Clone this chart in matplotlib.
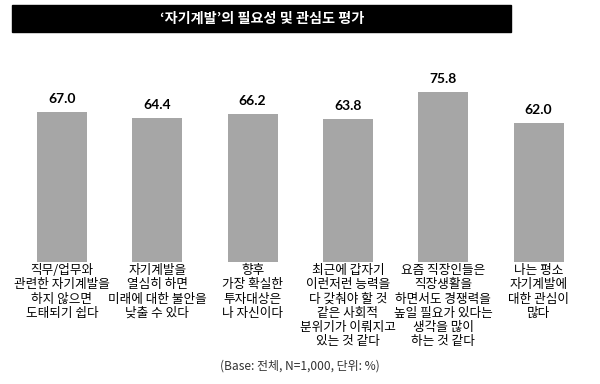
import matplotlib
matplotlib.use("Agg")
from matplotlib import pyplot as plt
from matplotlib.patches import Rectangle

plt.rcParams['font.family'] = ['Noto Sans CJK KR', 'DejaVu Sans']

TITLE = "‘자기계발’의 필요성 및 관심도 평가"
NOTE = "(Base: 전체, N=1,000, 단위: %)"

categories = [
    "직무/업무와\n관련한 자기계발을\n하지 않으면\n도태되기 쉽다",
    "자기계발을\n열심히 하면\n미래에 대한 불안을\n낮출 수 있다",
    "향후\n가장 확실한\n투자대상은\n나 자신이다",
    "최근에 갑자기\n이런저런 능력을\n다 갖춰야 할 것\n같은 사회적\n분위기가 이뤄지고\n있는 것 같다",
    "요즘 직장인들은\n직장생활을\n하면서도 경쟁력을\n높일 필요가 있다는\n생각을 많이\n하는 것 같다",
    "나는 평소\n자기계발에\n대한 관심이\n많다",
]
values = [67.0, 64.4, 66.2, 63.8, 75.8, 62.0]

fig = plt.figure(figsize=(6, 3.84), dpi=100)

# black title bar
fig.patches.append(Rectangle((12 / 600, 1 - 32 / 384), 499 / 600, 27 / 384,
                             transform=fig.transFigure, color="black", zorder=0))
fig.text(262 / 600, 1 - 18.5 / 384, TITLE, color="white", fontsize=10.2,
         fontweight="bold", ha="center", va="center")

ax = fig.add_axes([0, 122 / 384, 1, 200 / 384])
x = list(range(len(values)))
ax.bar(x, values, width=0.525, color="#a6a6a6")
ax.set_xlim(-0.65, 5.645)
ax.set_ylim(0, 200 / 2.24)
ax.axis("off")

for i, v in enumerate(values):
    ax.text(i, v + 3.2, f"{v:.1f}", ha="center", va="bottom", fontsize=10,
            fontweight="bold", family=["Lato", "DejaVu Sans"])
    ax.text(i, -1.0, categories[i], ha="center", va="top", fontsize=9.1,
            linespacing=1.12, color="black")

fig.text(300 / 600, 1 - 366 / 384, NOTE, ha="center", va="center",
         fontsize=8.6, color="#333333")

fig.savefig("out.png", dpi=100)
